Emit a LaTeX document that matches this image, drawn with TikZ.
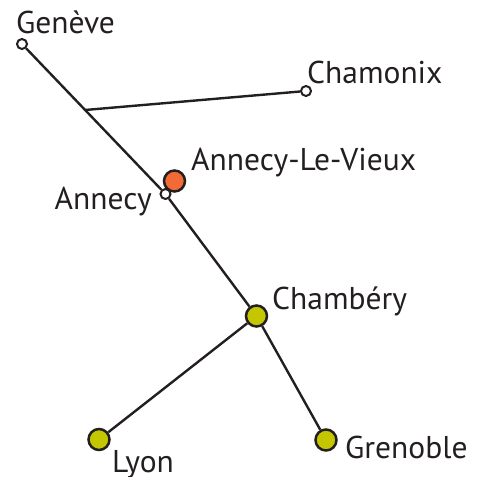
\documentclass[tikz,border=0pt]{standalone}
\usepackage{fontspec}
\setmainfont{PT Sans}
\usetikzlibrary{positioning}
\definecolor{ink}{HTML}{231F20}
\definecolor{vieux}{HTML}{F26A36}
\definecolor{gare}{HTML}{C4C700}

\begin{document}
\begin{tikzpicture}[x=1pt,y=-1pt,
    town/.style={circle,draw=ink,line width=2pt,fill=white,inner sep=0pt,minimum size=10pt},
    city/.style={circle,draw=ink,line width=2.5pt,fill=gare,inner sep=0pt,minimum size=21pt},
    lbl/.style={font=\fontsize{31.5}{36}\selectfont,text=ink,inner sep=0pt,anchor=base west},
    road/.style={draw=ink,line width=2.4pt}]
      \useasboundingbox (0,0) rectangle (480,477);

      %%towns
      \node [town] (geneve) at (22,44) {};
      \node [town] (chamonix) at (306,91) {};
      \node [town] (annecy) at (165.5,194) {};
      \node [city,fill=vieux] (vieux) at (174.5,181) {};
      \node [city] (chambery) at (256.5,316) {};
      \node [city] (lyon) at (99,439.5) {};
      \node [city] (grenoble) at (326,440) {};
      \coordinate (branch) at (85,110);

      %%roads
      \draw [road] (geneve) -- (annecy) -- (chambery) -- (grenoble);
      \draw [road] (branch) -- (chamonix);
      \draw [road] (chambery) -- (lyon);

      %%names
      \node [lbl] (genevelbl) at (16,33) {Genève};
      \node [lbl] (chamonixlbl) at (307,83) {Chamonix};
      \node [lbl] (vieuxlbl) at (191,170) {Annecy-Le-Vieux};
      \node [lbl,anchor=base east] (annecylbl) at (152,209) {Annecy};
      \node [lbl] (chamberylbl) at (272,309) {Chambéry};
      \node [lbl] (lyonlbl) at (112,472) {Lyon};
      \node [lbl] (grenoblelbl) at (345,458) {Grenoble};
\end{tikzpicture}
\end{document}
